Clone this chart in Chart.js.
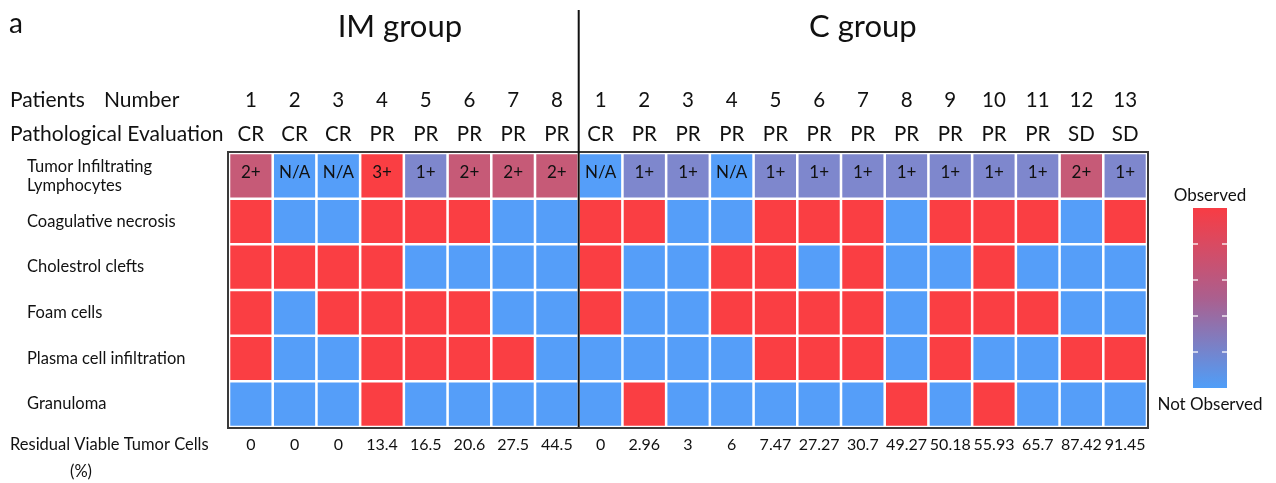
<!DOCTYPE html>
<html>
<head>
<meta charset="utf-8">
<script src="https://cdn.jsdelivr.net/npm/chart.js@4.4.1/dist/chart.umd.min.js"></script>
<style>
  html, body { margin: 0; padding: 0; background: #ffffff; }
  #wrap { width: 1276px; height: 483px; position: relative; }
</style>
</head>
<body>
<div id="wrap"><canvas id="heat"></canvas></div>
<script>
// ---- Patients (8 in the IM group, 13 in the C group) ----
const groupNames = ['IM group', 'C group'];
const groupSizes = [8, 13];
const patientNumbers = ['1','2','3','4','5','6','7','8',
                        '1','2','3','4','5','6','7','8','9','10','11','12','13'];
const evaluations = ['CR','CR','CR','PR','PR','PR','PR','PR',
                     'CR','PR','PR','PR','PR','PR','PR','PR','PR','PR','PR','SD','SD'];

// ---- Histological findings (1 = observed, 0 = not observed) ----
const rowNames = [['Tumor Infiltrating', 'Lymphocytes'], 'Coagulative necrosis',
                  'Cholestrol clefts', 'Foam cells', 'Plasma cell infiltration', 'Granuloma'];
const tilGrades = ['2+','N/A','N/A','3+','1+','2+','2+','2+',
                   'N/A','1+','1+','N/A','1+','1+','1+','1+','1+','1+','1+','2+','1+'];
const coagulativeNecrosis = [1,0,0,1,1,1,0,0, 1,1,0,0,1,1,1,0,1,1,1,0,1];
const cholesterolClefts   = [1,1,1,1,0,0,0,0, 1,0,0,1,1,0,1,0,0,1,0,0,0];
const foamCells           = [1,0,1,1,1,1,0,0, 1,0,0,1,1,1,1,0,1,1,1,0,0];
const plasmaCells         = [1,0,0,1,1,1,1,0, 0,0,0,0,1,1,1,0,1,0,0,1,1];
const granuloma           = [0,0,0,1,0,0,0,0, 0,1,0,0,0,0,0,1,0,1,0,0,0];

// ---- Residual viable tumor cells (%) ----
const residualTumor = ['0','0','0','13.4','16.5','20.6','27.5','44.5',
                       '0','2.96','3','6','7.47','27.27','30.7','49.27','50.18','55.93','65.7','87.42','91.45'];

// ---- Colours ----
const RED = '#fa3e43';
const BLUE = '#559ef9';
const gradeColor = { '3+': RED, '2+': '#c65a77', '1+': '#7e87cd', 'N/A': BLUE };
const FONT = 'Lato, "Liberation Sans", sans-serif';

const findingRows = [coagulativeNecrosis, cholesterolClefts, foamCells, plasmaCells, granuloma];
const rowColors = [tilGrades.map(g => gradeColor[g])]
  .concat(findingRows.map(r => r.map(v => v ? RED : BLUE)));

const datasets = rowColors.map((colors, ri) => ({
  label: Array.isArray(rowNames[ri]) ? rowNames[ri].join(' ') : rowNames[ri],
  data: patientNumbers.map(() => [ri, ri + 1]),
  backgroundColor: colors,
  borderColor: '#ffffff',
  borderWidth: 1.6,
  borderSkipped: false,
  barPercentage: 1,
  categoryPercentage: 1,
  grouped: false
}));

// Frame, group divider, grade labels, headers and colour bar
const decorations = {
  id: 'decorations',
  afterDatasetsDraw(chart) {
    const { ctx, chartArea: a, scales } = chart;
    const x = scales.x;
    ctx.save();

    // grade text inside the first row
    const meta0 = chart.getDatasetMeta(0);
    ctx.fillStyle = '#111';
    ctx.font = '17px ' + FONT;
    ctx.textAlign = 'center';
    ctx.textBaseline = 'middle';
    meta0.data.forEach((bar, i) => {
      ctx.fillText(tilGrades[i], bar.x, (bar.y + bar.base) / 2 - 3);
    });

    // outer frame
    ctx.strokeStyle = '#3a3a3a';
    ctx.lineWidth = 2;
    ctx.strokeRect(a.left - 1, a.top - 1, a.right - a.left + 2, a.bottom - a.top + 2);

    // divider between the two groups
    const divX = (x.getPixelForValue(groupSizes[0] - 1) + x.getPixelForValue(groupSizes[0])) / 2;
    ctx.strokeStyle = '#111';
    ctx.lineWidth = 2;
    ctx.beginPath();
    ctx.moveTo(divX, 10);
    ctx.lineTo(divX, a.bottom);
    ctx.stroke();

    // group titles
    ctx.fillStyle = '#111';
    ctx.font = '31px ' + FONT;
    let start = 0;
    groupSizes.forEach((n, gi) => {
      const gx = (x.getPixelForValue(start) + x.getPixelForValue(start + n - 1)) / 2;
      ctx.fillText(groupNames[gi], gx - (gi === 0 ? 4 : 0), 27);
      start += n;
    });

    // panel letter
    ctx.textAlign = 'left';
    ctx.font = '28px ' + FONT;
    ctx.fillText('a', 9, 24);

    // header captions
    ctx.font = '21px ' + FONT;
    ctx.fillText('Patients', 10, 100);
    ctx.fillText('Number', 104, 100);
    ctx.fillText('Pathological Evaluation', 10, 134);
    ctx.font = '16.5px ' + FONT;
    ctx.fillText('Residual Viable Tumor Cells', 10, 445);
    ctx.textAlign = 'center';
    ctx.fillText('(%)', 81, 472);

    // colour bar
    const cbL = 1193, cbR = 1227, cbT = 208, cbB = 388;
    const grad = ctx.createLinearGradient(0, cbT, 0, cbB);
    grad.addColorStop(0, '#f83c44');
    grad.addColorStop(0.5, '#ab5f8e');
    grad.addColorStop(1, '#4f9ef8');
    ctx.fillStyle = grad;
    ctx.fillRect(cbL, cbT, cbR - cbL, cbB - cbT);
    ctx.strokeStyle = 'rgba(255,255,255,0.85)';
    ctx.lineWidth = 1.5;
    for (let k = 1; k <= 4; k++) {
      const ty = cbT + (cbB - cbT) * k / 5;
      ctx.beginPath();
      ctx.moveTo(cbL, ty); ctx.lineTo(cbL + 5, ty);
      ctx.moveTo(cbR - 5, ty); ctx.lineTo(cbR, ty);
      ctx.stroke();
    }
    ctx.fillStyle = '#111';
    ctx.font = '17px ' + FONT;
    ctx.fillText('Observed', (cbL + cbR) / 2, 196);
    ctx.fillText('Not Observed', (cbL + cbR) / 2, 405);

    ctx.restore();
  }
};

new Chart(document.getElementById('heat'), {
  type: 'bar',
  data: {
    labels: patientNumbers.map((n, i) => [n, evaluations[i]]),
    datasets
  },
  options: {
    responsive: true,
    maintainAspectRatio: false,
    animation: false,
    events: [],
    layout: { padding: { left: 27, right: 129, top: 0, bottom: 0 } },
    plugins: { legend: { display: false }, tooltip: { enabled: false } },
    scales: {
      x: {
        type: 'category',
        position: 'top',
        offset: true,
        grid: { display: false, drawTicks: false },
        border: { display: false },
        ticks: {
          color: '#111',
          font: { family: FONT, size: 20.5, lineHeight: 1.66 },
          padding: 2,
          maxRotation: 0,
          autoSkip: false
        },
        afterFit(s) { s.height = 153; }
      },
      x2: {
        type: 'category',
        position: 'bottom',
        offset: true,
        labels: residualTumor,
        grid: { display: false, drawTicks: false },
        border: { display: false },
        ticks: {
          color: '#111',
          font: { family: FONT, size: 16, lineHeight: 1.2 },
          padding: 8,
          maxRotation: 0,
          autoSkip: false
        },
        afterFit(s) { s.height = 56; }
      },
      y: {
        type: 'linear',
        min: 0,
        max: 6,
        reverse: true,
        grid: { display: false, drawTicks: false },
        border: { display: false },
        afterBuildTicks(s) { s.ticks = rowNames.map((_, i) => ({ value: i + 0.5 })); },
        ticks: {
          color: '#111',
          crossAlign: 'far',
          font: { family: FONT, size: 16.5, lineHeight: 1.17 },
          callback: (v, i) => rowNames[i]
        },
        afterFit(s) { s.width = 202; }
      }
    }
  },
  plugins: [decorations]
});
</script>
</body>
</html>
